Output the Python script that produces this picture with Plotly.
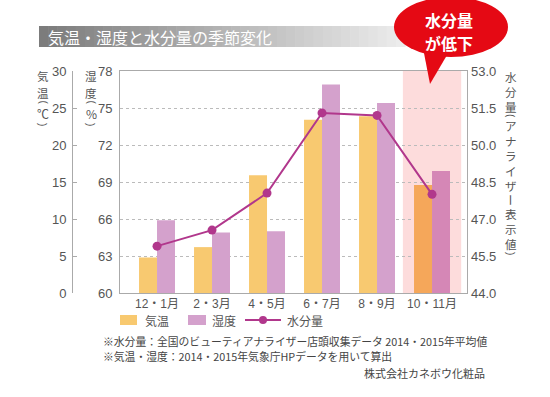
import plotly.graph_objects as go

# ---------------- data ----------------
categories = ["12・1月", "2・3月", "4・5月", "6・7月", "8・9月", "10・11月"]
temperature = [4.8, 6.2, 15.9, 23.4, 23.9, 14.6]      # 気温 (℃)
humidity = [65.9, 64.9, 65.0, 76.9, 75.4, 69.9]       # 湿度 (%)
moisture = [45.9, 46.55, 48.05, 51.3, 51.2, 48.0]     # 水分量

temp_ticks = [0, 5, 10, 15, 20, 25, 30]
hum_ticks = [60, 63, 66, 69, 72, 75, 78]
moist_ticks = [44.0, 45.5, 47.0, 48.5, 50.0, 51.5, 53.0]

title_text = "気温・湿度と水分量の季節変化"
callout_lines = ["水分量", "が低下"]
note_lines = [
    "※水分量：全国のビューティアナライザー店頭収集データ 2014・2015年平均値",
    "※気温・湿度：2014・2015年気象庁HPデータを用いて算出",
]
credit = "株式会社カネボウ化粧品"

# ---------------- layout geometry helpers ----------------
W, H = 550, 397
ML, MR, MT, MB = 50, 83, 71, 104
PW, PH = W - ML - MR, H - MT - MB


def px(x):
    return (x - ML) / PW


def py(y):
    return (H - MB - y) / PH


FONT = "Liberation Sans, Noto Sans CJK JP, sans-serif"
CJK = "Noto Sans CJK JP, sans-serif"
TXT = "#555555"

c_temp = "#F8C970"
c_temp_hi = "#F5A75A"
c_hum = "#D4A1CC"
c_hum_hi = "#D587B6"
c_line = "#B1378C"

n = len(categories)
temp_colors = [c_temp] * (n - 1) + [c_temp_hi]
hum_colors = [c_hum] * (n - 1) + [c_hum_hi]

bw = 0.327

fig = go.Figure()
fig.add_trace(go.Bar(x=categories, y=temperature, yaxis="y2", name="気温",
                     marker=dict(color=temp_colors, line=dict(width=0)),
                     width=bw, offset=-bw, showlegend=False))
fig.add_trace(go.Bar(x=categories, y=humidity, yaxis="y", name="湿度",
                     marker=dict(color=hum_colors, line=dict(width=0)),
                     width=bw, offset=0, showlegend=False))
fig.add_trace(go.Scatter(x=categories, y=moisture, yaxis="y3", name="水分量",
                         mode="lines+markers",
                         line=dict(color=c_line, width=2),
                         marker=dict(color=c_line, size=9),
                         showlegend=False, cliponaxis=False))

shapes = []
annotations = []

# highlighted period
shapes.append(dict(type="rect", xref="x", yref="paper", x0=4.47, x1=5.53,
                   y0=0, y1=1, fillcolor="#FDDCDC", line=dict(width=0),
                   layer="below"))

# title bar with gradient
x_start, x_end = 39, 405
steps = 40
for i in range(steps):
    x0 = x_start + (x_end - x_start) * i / steps
    x1 = x_start + (x_end - x_start) * (i + 1) / steps + 0.6
    t = i / (steps - 1)
    g = int(124 + (236 - 124) * t)
    shapes.append(dict(type="rect", xref="paper", yref="paper",
                       x0=px(x0), x1=px(x1), y0=py(47), y1=py(26),
                       fillcolor=f"rgb({g},{g},{g})", line=dict(width=0),
                       layer="above"))
annotations.append(dict(text=title_text, xref="paper", yref="paper",
                        x=px(46), y=py(37), xanchor="left", yanchor="middle",
                        showarrow=False,
                        font=dict(family=CJK, size=16, color="#FFFFFF")))

# callout bubble
shapes.append(dict(type="circle", xref="paper", yref="paper",
                   x0=px(394), x1=px(508), y0=py(57), y1=py(-3),
                   fillcolor="#E50914", line=dict(width=0), layer="above"))
shapes.append(dict(type="path", xref="paper", yref="paper",
                   path=f"M{px(423)},{py(48)} L{px(450)},{py(50)} L{px(430)},{py(84)} Z",
                   fillcolor="#E50914", line=dict(width=0), layer="above"))
for txt, y in zip(callout_lines, [19.5, 43]):
    annotations.append(dict(text=txt, xref="paper", yref="paper",
                            x=px(449), y=py(y), xanchor="center", yanchor="middle",
                            showarrow=False, borderpad=0,
                            font=dict(family=CJK, size=16, color="#FFFFFF",
                                      weight="bold")))


# vertical axis titles: stacked characters, brackets / bar rotated
def vtext(chars, x, y, size, rotate=False, family=CJK):
    annotations.append(dict(text="<br>".join(chars), xref="paper", yref="paper",
                            x=px(x), y=py(y), xanchor="center", yanchor="middle",
                            showarrow=False, textangle=90 if rotate else 0,
                            borderpad=0,
                            font=dict(family=family, size=size, color=TXT)))


# 気温 (℃)
vtext(["気"], 43, 75.5, 11.5)
vtext(["温"], 43, 92.5, 11.5)
vtext(["("], 43, 102.5, 10, rotate=True, family=FONT)
vtext(["℃"], 43, 113, 12)
vtext([")"], 43, 124, 10, rotate=True, family=FONT)
# 湿度 (%)
vtext(["湿"], 91, 75.5, 11.5)
vtext(["度"], 91, 92.5, 11.5)
vtext(["("], 91, 102.5, 10, rotate=True, family=FONT)
vtext(["%"], 91, 113, 12)
vtext([")"], 91, 124, 10, rotate=True, family=FONT)
# 水分量（アナライザー表示値）
vtext(["水", "分", "量"], 511, 92, 11.5)
vtext(["("], 511, 116, 10, rotate=True, family=FONT)
vtext(["ア", "ナ", "ラ", "イ", "ザ"], 511, 156, 11.5)
vtext(["ー"], 511, 200, 12, rotate=True)
vtext(["表", "示", "値"], 511, 229, 11.5)
vtext([")"], 511, 253, 10, rotate=True, family=FONT)

# legend (manual)
shapes.append(dict(type="rect", xref="paper", yref="paper", x0=px(120), x1=px(137),
                   y0=py(325), y1=py(315), fillcolor=c_temp, line=dict(width=0)))
shapes.append(dict(type="rect", xref="paper", yref="paper", x0=px(188), x1=px(206),
                   y0=py(325), y1=py(315), fillcolor=c_hum, line=dict(width=0)))
shapes.append(dict(type="line", xref="paper", yref="paper", x0=px(245), x1=px(281),
                   y0=py(320), y1=py(320), line=dict(color=c_line, width=2)))
shapes.append(dict(type="circle", xref="paper", yref="paper", x0=px(259), x1=px(267),
                   y0=py(324), y1=py(316), fillcolor=c_line, line=dict(width=0)))
for txt, x in [("気温", 143), ("湿度", 210), ("水分量", 285)]:
    annotations.append(dict(text=txt, xref="paper", yref="paper", x=px(x), y=py(320),
                            xanchor="left", yanchor="middle", showarrow=False,
                            font=dict(family=CJK, size=12, color=TXT)))

# notes
for txt, y in zip(note_lines, [341, 356]):
    annotations.append(dict(text=txt, xref="paper", yref="paper", x=px(101), y=py(y),
                            xanchor="left", yanchor="middle", showarrow=False,
                            font=dict(family=CJK, size=10.8, color="#444444")))
annotations.append(dict(text=credit, xref="paper", yref="paper", x=px(487), y=py(373),
                        xanchor="right", yanchor="middle", showarrow=False,
                        font=dict(family=CJK, size=11, color="#444444")))

AX = "#AAAAAA"
fig.update_layout(
    width=W, height=H,
    margin=dict(l=ML, r=MR, t=MT, b=MB, pad=0),
    paper_bgcolor="white", plot_bgcolor="white",
    font=dict(family=FONT, color=TXT),
    showlegend=False,
    barmode="overlay",
    xaxis=dict(domain=[(120 - ML) / PW, 1], range=[-0.673, 5.636],
               type="category", showgrid=False, showline=True, mirror=True,
               linecolor=AX, linewidth=1, ticks="", fixedrange=True,
               tickfont=dict(family=FONT, size=12, color=TXT)),
    yaxis=dict(range=[60, 78], tickvals=hum_ticks,
               showgrid=True, gridcolor="#BBBBBB", griddash="dot", gridwidth=1,
               showline=True, mirror=True, linecolor=AX, linewidth=1,
               ticks="", ticklabelstandoff=4, zeroline=False,
               tickfont=dict(family=FONT, size=13, color=TXT)),
    yaxis2=dict(range=[0, 30], tickvals=temp_ticks, overlaying="y", side="left",
                anchor="free", position=(72 - ML) / PW, showgrid=False,
                showline=True, linecolor=AX, linewidth=1, ticks="inside",
                ticklen=4, tickcolor=AX, ticklabelstandoff=3, zeroline=False,
                tickfont=dict(family=FONT, size=13, color=TXT)),
    yaxis3=dict(range=[44, 53], tickvals=moist_ticks, tickformat=".1f",
                overlaying="y", side="right", anchor="x", showgrid=False,
                showline=False, ticks="", ticklabelstandoff=3, zeroline=False,
                tickfont=dict(family=FONT, size=13, color=TXT)),
    shapes=shapes,
    annotations=annotations,
)

fig.write_html("out.html", config={"displayModeBar": False},
               post_script="document.body.style.margin='0px';")
